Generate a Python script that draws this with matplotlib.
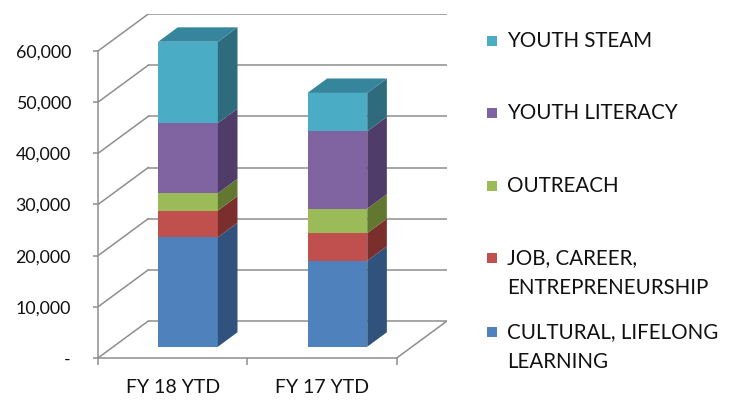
import matplotlib
matplotlib.use("Agg")
import matplotlib.pyplot as plt
from matplotlib.patches import Polygon, Rectangle
import numpy as np

# ---------------- data ----------------
categories = ["FY 18 YTD", "FY 17 YTD"]
series_names = ["CULTURAL, LIFELONG\nLEARNING",
                "JOB, CAREER,\nENTREPRENEURSHIP",
                "OUTREACH",
                "YOUTH LITERACY",
                "YOUTH STEAM"]
cultural = [21400, 16800]
job_career = [5200, 5400]
outreach = [3400, 4800]
youth_literacy = [13700, 15100]
youth_steam = [15900, 7500]
series_values = [cultural, job_career, outreach, youth_literacy, youth_steam]
y_ticks = [0, 10000, 20000, 30000, 40000, 50000, 60000]

# ---------------- style ----------------
front_colors = ["#4F81BD", "#C0504D", "#9BBB59", "#8064A2", "#4BACC6"]
side_colors = ["#30527C", "#7B2F2D", "#62772F", "#4F3C68", "#2E6C7D"]
top_colors = ["#3B6597", "#963B39", "#7A9446", "#65508A", "#35869C"]
grid_color = "#8E8E8E"
text_color = "#111111"
FONT = "Lato"

W, H = 741, 400
fig = plt.figure(figsize=(W / 100, H / 100), dpi=100)

# axes = front plane of the 3-D box (pixel layout of the reference)
left_px, right_px, bottom_px, top_px = 98, 447, 358, 14
ax = fig.add_axes([left_px / W, (H - bottom_px) / H,
                   (right_px - left_px) / W, (bottom_px - top_px) / H])

n = len(categories)
DX = 0.3367          # depth offset, category units
DY = 7230.0          # depth offset, value units
ymax = y_ticks[-1]
ax.set_xlim(0, n + DX)
ax.set_ylim(0, ymax + DY)

# walls / gridlines
for v in y_ticks:
    ax.plot([DX, n + DX], [v + DY, v + DY], color=grid_color, lw=1.1,
            zorder=1, solid_capstyle="butt")
    ax.plot([0, DX], [v, v + DY], color=grid_color, lw=1.1, zorder=1)
# floor right edge
ax.plot([n, n + DX], [0, DY], color=grid_color, lw=1.1, zorder=1)

# bars (oblique 3-D)
f0 = 0.305     # depth fraction where bar front sits
bd = 0.39      # bar depth fraction
bw = 0.40      # bar width
x_front = np.arange(n) + 0.5 + f0 * DX
base = np.full(n, f0 * DY)
for s, vals in enumerate(series_values):
    vals = np.asarray(vals, dtype=float)
    ax.bar(x_front, vals, bottom=base, width=bw, color=front_colors[s],
           edgecolor="none", zorder=3)
    for i in range(n):
        xr = x_front[i] + bw / 2
        xl = x_front[i] - bw / 2
        y0, y1 = base[i], base[i] + vals[i]
        side = [(xr, y0), (xr + bd * DX, y0 + bd * DY),
                (xr + bd * DX, y1 + bd * DY), (xr, y1)]
        ax.add_patch(Polygon(side, closed=True, facecolor=side_colors[s],
                             edgecolor="none", zorder=3))
        if s == len(series_values) - 1:
            top = [(xl, y1), (xl + bd * DX, y1 + bd * DY),
                   (xr + bd * DX, y1 + bd * DY), (xr, y1)]
            ax.add_patch(Polygon(top, closed=True, facecolor=top_colors[s],
                                 edgecolor="none", zorder=3))
    base = base + vals

# axes lines / ticks
for sp in ["top", "right"]:
    ax.spines[sp].set_visible(False)
ax.spines["left"].set_bounds(0, ymax)
ax.spines["bottom"].set_bounds(0, n)
for sp in ["left", "bottom"]:
    ax.spines[sp].set_color(grid_color)
    ax.spines[sp].set_linewidth(1.1)

ax.set_yticks(y_ticks)
ax.set_yticklabels(["-" if v == 0 else f"{v:,.0f}" for v in y_ticks],
                   fontfamily=FONT, fontsize=12.8, color=text_color)
ax.tick_params(axis="y", length=3.5, width=1.1, color=grid_color, pad=16)

ax.set_xticks(np.arange(n + 1))
ax.set_xticklabels([""] * (n + 1))
ax.set_xticks(np.arange(n) + 0.5, minor=True)
ax.set_xticklabels(categories, minor=True, fontfamily=FONT, fontsize=14,
                   color=text_color)
ax.tick_params(axis="x", which="major", length=5, width=1.1,
               color=grid_color, direction="out")
ax.tick_params(axis="x", which="minor", length=0, pad=15)

# legend (manual, Excel layout: reversed order, square beside first line)
leg_x_sq, leg_x_txt = 487, 507
leg_first_y = [332, 258, 186, 113, 41]
line_gap = 30.5
for s, name in enumerate(series_names):
    yc = leg_first_y[s]
    fig.patches.append(Rectangle(((leg_x_sq) / W, (H - yc - 5) / H),
                                 10 / W, 10 / H, transform=fig.transFigure,
                                 facecolor=front_colors[s], edgecolor="none"))
    for k, line in enumerate(name.split("\n")):
        fig.text(leg_x_txt / W, (H - (yc + k * line_gap)) / H, line,
                 fontfamily=FONT, fontsize=14.8, color=text_color,
                 ha="left", va="center")

fig.savefig("out.png", dpi=100)
